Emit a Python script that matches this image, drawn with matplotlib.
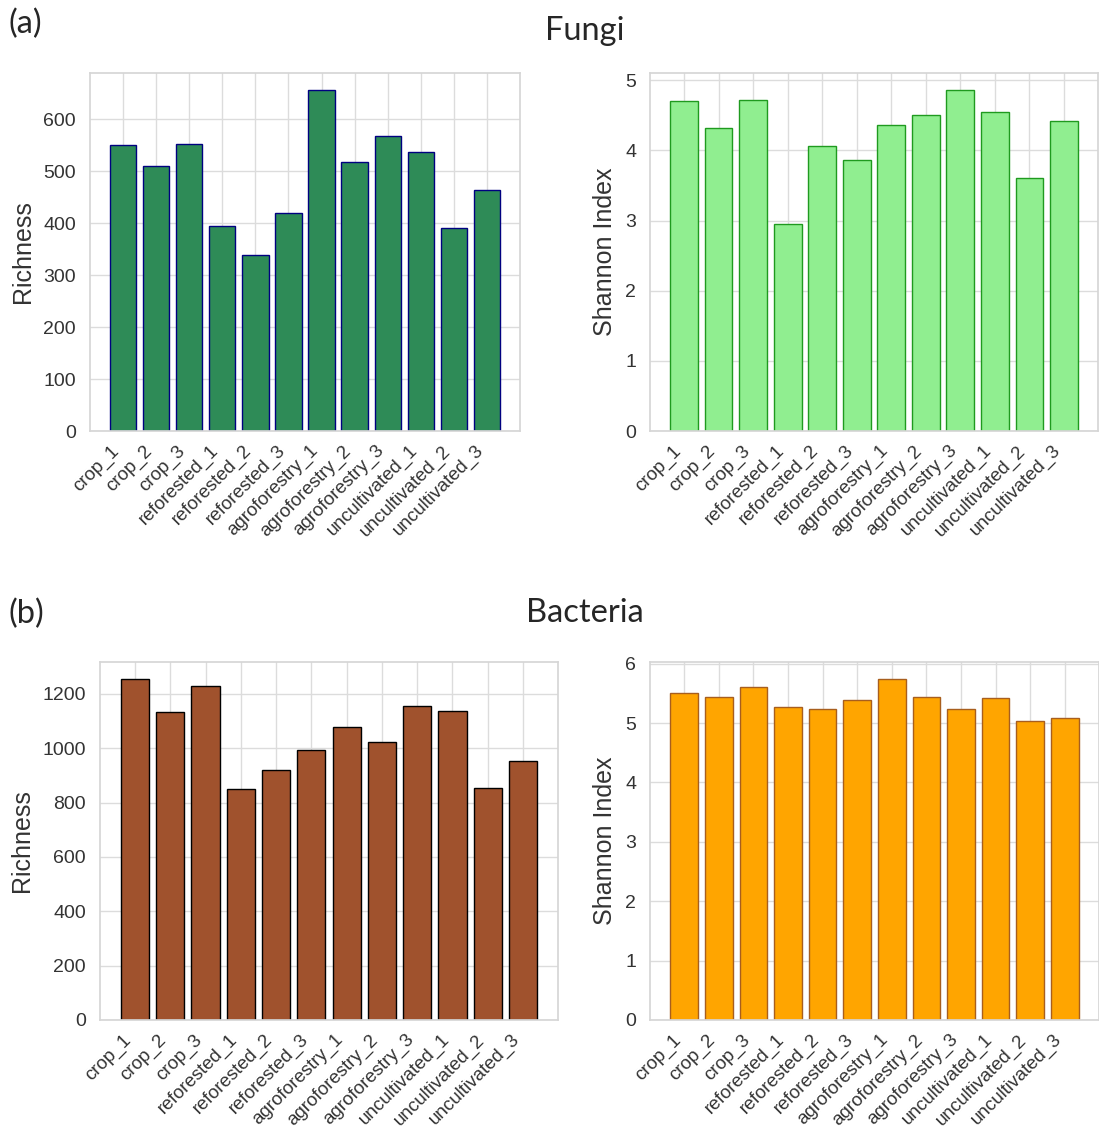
import matplotlib
matplotlib.use("Agg")
import matplotlib.pyplot as plt
import seaborn as sns

samples = ["crop_1", "crop_2", "crop_3", "reforested_1", "reforested_2", "reforested_3",
           "agroforestry_1", "agroforestry_2", "agroforestry_3",
           "uncultivated_1", "uncultivated_2", "uncultivated_3"]

fungi_richness = [551, 509, 553, 395, 338, 420, 656, 518, 568, 537, 390, 463]
fungi_shannon = [4.71, 4.32, 4.72, 2.95, 4.06, 3.86, 4.36, 4.51, 4.86, 4.54, 3.61, 4.42]
bacteria_richness = [1255, 1134, 1230, 849, 921, 995, 1080, 1023, 1157, 1137, 854, 952]
bacteria_shannon = [5.50, 5.44, 5.60, 5.27, 5.24, 5.39, 5.74, 5.44, 5.24, 5.42, 5.03, 5.09]

sns.set_theme(style="whitegrid")
sans = ['Liberation Sans', 'DejaVu Sans']
plt.rcParams['font.family'] = sans

fig = plt.figure(figsize=(10.99, 11.28), dpi=100)
W, H = 1099, 1128

def axes_px(l, r, t, b):
    return fig.add_axes([l / W, 1 - b / H, (r - l) / W, (b - t) / H])

panels = [
    (axes_px(90, 520, 73, 431), fungi_richness, "#2E8B57", "navy", "Richness"),
    (axes_px(650, 1098, 73, 431), fungi_shannon, "#90EE90", "#1f9a1f", "Shannon Index"),
    (axes_px(100, 558, 662, 1020), bacteria_richness, "#A0522D", "black", "Richness"),
    (axes_px(650, 1099, 662, 1020), bacteria_shannon, "#FFA500", "#A85E1E", "Shannon Index"),
]

for ax, vals, fc, ec, ylab in panels:
    ax.bar(samples, vals, color=fc, edgecolor=ec, linewidth=1.0, width=0.8)
    ax.set_ylabel(ylab, fontsize=18, color="#333333", labelpad=6, family=sans)
    ax.tick_params(axis='y', labelsize=14, colors="#333333", pad=4)
    ax.tick_params(axis='x', labelsize=13.5, colors="#333333", pad=2)
    plt.setp(ax.get_xticklabels(), rotation=45, ha='right')
    for s in ax.spines.values():
        s.set_color("#d6d6d6")
    ax.grid(True, color="#dcdcdc", linewidth=1.0)
    ax.set_axisbelow(True)

title_font = ['Lato', 'DejaVu Sans']
fig.text(8 / W, 1 - 24 / H, "(a)", fontsize=23.5, family=title_font, va='center', ha='left')
fig.text(585 / W, 1 - 31 / H, "Fungi", fontsize=23.5, family=title_font, va='center', ha='center')
fig.text(8 / W, 1 - 614 / H, "(b)", fontsize=23.5, family=title_font, va='center', ha='left')
fig.text(585 / W, 1 - 613 / H, "Bacteria", fontsize=23.5, family=title_font, va='center', ha='center')

fig.savefig("out.png", dpi=100, facecolor="white")
